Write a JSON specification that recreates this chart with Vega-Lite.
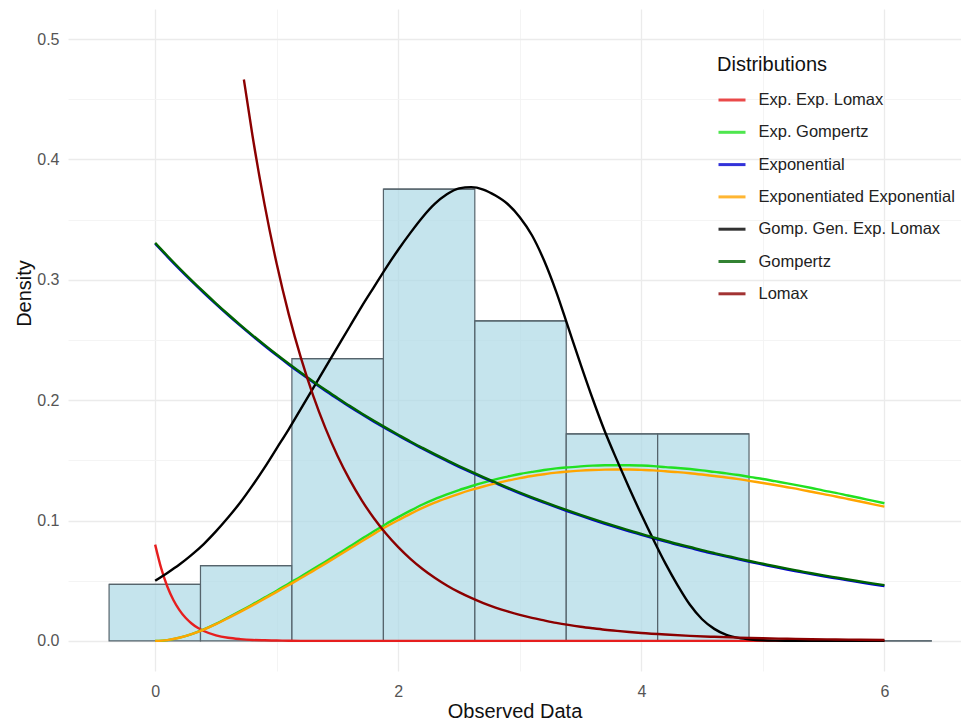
{
  "$schema": "https://vega.github.io/schema/vega-lite/v6.json",
  "width": 893,
  "height": 662,
  "autosize": {"type": "none"},
  "padding": {"left": 68, "top": 9, "right": 0, "bottom": 52},
  "background": "white",
  "config": {"view": {"stroke": null}, "font": "Liberation Sans"},
  "datasets": {
    "bars": [
      {"start": -0.379, "end": 0.373, "density": 0.0469},
      {"start": 0.373, "end": 1.125, "density": 0.0626},
      {"start": 1.125, "end": 1.878, "density": 0.2346},
      {"start": 1.878, "end": 2.63, "density": 0.3753},
      {"start": 2.63, "end": 3.382, "density": 0.2659},
      {"start": 3.382, "end": 4.134, "density": 0.172},
      {"start": 4.134, "end": 4.886, "density": 0.172},
      {"start": 4.886, "end": 5.638, "density": 0},
      {"start": 5.638, "end": 6.39, "density": 0}
    ],
    "curves": [
      {"x": 0, "y": 0.08, "dist": "Exp. Exp. Lomax"},
      {"x": 0.05, "y": 0.0602, "dist": "Exp. Exp. Lomax"},
      {"x": 0.1, "y": 0.0452, "dist": "Exp. Exp. Lomax"},
      {"x": 0.15, "y": 0.034, "dist": "Exp. Exp. Lomax"},
      {"x": 0.2, "y": 0.0256, "dist": "Exp. Exp. Lomax"},
      {"x": 0.25, "y": 0.0192, "dist": "Exp. Exp. Lomax"},
      {"x": 0.3, "y": 0.0145, "dist": "Exp. Exp. Lomax"},
      {"x": 0.35, "y": 0.0109, "dist": "Exp. Exp. Lomax"},
      {"x": 0.4, "y": 0.0082, "dist": "Exp. Exp. Lomax"},
      {"x": 0.5, "y": 0.0046, "dist": "Exp. Exp. Lomax"},
      {"x": 0.6, "y": 0.0026, "dist": "Exp. Exp. Lomax"},
      {"x": 0.7, "y": 0.0015, "dist": "Exp. Exp. Lomax"},
      {"x": 0.8, "y": 0.0008, "dist": "Exp. Exp. Lomax"},
      {"x": 0.9, "y": 0.0005, "dist": "Exp. Exp. Lomax"},
      {"x": 1.0, "y": 0.0003, "dist": "Exp. Exp. Lomax"},
      {"x": 1.1, "y": 0.0001, "dist": "Exp. Exp. Lomax"},
      {"x": 1.2, "y": 0, "dist": "Exp. Exp. Lomax"},
      {"x": 2, "y": 0, "dist": "Exp. Exp. Lomax"},
      {"x": 3, "y": 0, "dist": "Exp. Exp. Lomax"},
      {"x": 4, "y": 0, "dist": "Exp. Exp. Lomax"},
      {"x": 5, "y": 0, "dist": "Exp. Exp. Lomax"},
      {"x": 6, "y": 0, "dist": "Exp. Exp. Lomax"},

      {"x": 0, "y": 0, "dist": "Exp. Gompertz"},
      {"x": 0.1, "y": 0.0007, "dist": "Exp. Gompertz"},
      {"x": 0.2, "y": 0.0027, "dist": "Exp. Gompertz"},
      {"x": 0.3, "y": 0.0057, "dist": "Exp. Gompertz"},
      {"x": 0.4, "y": 0.0096, "dist": "Exp. Gompertz"},
      {"x": 0.5, "y": 0.0142, "dist": "Exp. Gompertz"},
      {"x": 0.6, "y": 0.0194, "dist": "Exp. Gompertz"},
      {"x": 0.7, "y": 0.0247, "dist": "Exp. Gompertz"},
      {"x": 0.8, "y": 0.0302, "dist": "Exp. Gompertz"},
      {"x": 0.9, "y": 0.036, "dist": "Exp. Gompertz"},
      {"x": 1.0, "y": 0.0417, "dist": "Exp. Gompertz"},
      {"x": 1.1, "y": 0.0477, "dist": "Exp. Gompertz"},
      {"x": 1.2, "y": 0.0535, "dist": "Exp. Gompertz"},
      {"x": 1.3, "y": 0.0597, "dist": "Exp. Gompertz"},
      {"x": 1.4, "y": 0.0658, "dist": "Exp. Gompertz"},
      {"x": 1.5, "y": 0.0721, "dist": "Exp. Gompertz"},
      {"x": 1.6, "y": 0.0784, "dist": "Exp. Gompertz"},
      {"x": 1.7, "y": 0.0849, "dist": "Exp. Gompertz"},
      {"x": 1.8, "y": 0.0911, "dist": "Exp. Gompertz"},
      {"x": 1.9, "y": 0.0972, "dist": "Exp. Gompertz"},
      {"x": 2.0, "y": 0.1028, "dist": "Exp. Gompertz"},
      {"x": 2.1, "y": 0.1082, "dist": "Exp. Gompertz"},
      {"x": 2.2, "y": 0.1133, "dist": "Exp. Gompertz"},
      {"x": 2.3, "y": 0.1178, "dist": "Exp. Gompertz"},
      {"x": 2.4, "y": 0.1217, "dist": "Exp. Gompertz"},
      {"x": 2.5, "y": 0.1253, "dist": "Exp. Gompertz"},
      {"x": 2.6, "y": 0.1285, "dist": "Exp. Gompertz"},
      {"x": 2.7, "y": 0.1315, "dist": "Exp. Gompertz"},
      {"x": 2.8, "y": 0.1342, "dist": "Exp. Gompertz"},
      {"x": 2.9, "y": 0.1365, "dist": "Exp. Gompertz"},
      {"x": 3.0, "y": 0.1387, "dist": "Exp. Gompertz"},
      {"x": 3.1, "y": 0.1404, "dist": "Exp. Gompertz"},
      {"x": 3.2, "y": 0.142, "dist": "Exp. Gompertz"},
      {"x": 3.3, "y": 0.1433, "dist": "Exp. Gompertz"},
      {"x": 3.4, "y": 0.1442, "dist": "Exp. Gompertz"},
      {"x": 3.5, "y": 0.145, "dist": "Exp. Gompertz"},
      {"x": 3.6, "y": 0.1456, "dist": "Exp. Gompertz"},
      {"x": 3.7, "y": 0.1459, "dist": "Exp. Gompertz"},
      {"x": 3.8, "y": 0.146, "dist": "Exp. Gompertz"},
      {"x": 3.9, "y": 0.146, "dist": "Exp. Gompertz"},
      {"x": 4.0, "y": 0.1457, "dist": "Exp. Gompertz"},
      {"x": 4.1, "y": 0.1452, "dist": "Exp. Gompertz"},
      {"x": 4.2, "y": 0.1444, "dist": "Exp. Gompertz"},
      {"x": 4.3, "y": 0.1437, "dist": "Exp. Gompertz"},
      {"x": 4.4, "y": 0.1428, "dist": "Exp. Gompertz"},
      {"x": 4.5, "y": 0.1417, "dist": "Exp. Gompertz"},
      {"x": 4.6, "y": 0.1404, "dist": "Exp. Gompertz"},
      {"x": 4.7, "y": 0.1392, "dist": "Exp. Gompertz"},
      {"x": 4.8, "y": 0.1378, "dist": "Exp. Gompertz"},
      {"x": 4.9, "y": 0.1361, "dist": "Exp. Gompertz"},
      {"x": 5.0, "y": 0.1345, "dist": "Exp. Gompertz"},
      {"x": 5.1, "y": 0.1327, "dist": "Exp. Gompertz"},
      {"x": 5.2, "y": 0.1309, "dist": "Exp. Gompertz"},
      {"x": 5.3, "y": 0.129, "dist": "Exp. Gompertz"},
      {"x": 5.4, "y": 0.127, "dist": "Exp. Gompertz"},
      {"x": 5.5, "y": 0.1249, "dist": "Exp. Gompertz"},
      {"x": 5.6, "y": 0.123, "dist": "Exp. Gompertz"},
      {"x": 5.7, "y": 0.1208, "dist": "Exp. Gompertz"},
      {"x": 5.8, "y": 0.1187, "dist": "Exp. Gompertz"},
      {"x": 5.9, "y": 0.1165, "dist": "Exp. Gompertz"},
      {"x": 6.0, "y": 0.1144, "dist": "Exp. Gompertz"},

      {"x": 0, "y": 0.33, "dist": "Exponential"},
      {"x": 0.1, "y": 0.3193, "dist": "Exponential"},
      {"x": 0.2, "y": 0.3089, "dist": "Exponential"},
      {"x": 0.3, "y": 0.2989, "dist": "Exponential"},
      {"x": 0.4, "y": 0.2892, "dist": "Exponential"},
      {"x": 0.5, "y": 0.2798, "dist": "Exponential"},
      {"x": 0.6, "y": 0.2707, "dist": "Exponential"},
      {"x": 0.7, "y": 0.2619, "dist": "Exponential"},
      {"x": 0.8, "y": 0.2534, "dist": "Exponential"},
      {"x": 0.9, "y": 0.2452, "dist": "Exponential"},
      {"x": 1.0, "y": 0.2372, "dist": "Exponential"},
      {"x": 1.1, "y": 0.2295, "dist": "Exponential"},
      {"x": 1.2, "y": 0.2221, "dist": "Exponential"},
      {"x": 1.3, "y": 0.2149, "dist": "Exponential"},
      {"x": 1.4, "y": 0.2079, "dist": "Exponential"},
      {"x": 1.5, "y": 0.2012, "dist": "Exponential"},
      {"x": 1.6, "y": 0.1946, "dist": "Exponential"},
      {"x": 1.7, "y": 0.1883, "dist": "Exponential"},
      {"x": 1.8, "y": 0.1822, "dist": "Exponential"},
      {"x": 1.9, "y": 0.1763, "dist": "Exponential"},
      {"x": 2.0, "y": 0.1706, "dist": "Exponential"},
      {"x": 2.1, "y": 0.165, "dist": "Exponential"},
      {"x": 2.2, "y": 0.1597, "dist": "Exponential"},
      {"x": 2.3, "y": 0.1545, "dist": "Exponential"},
      {"x": 2.4, "y": 0.1495, "dist": "Exponential"},
      {"x": 2.5, "y": 0.1446, "dist": "Exponential"},
      {"x": 2.6, "y": 0.1399, "dist": "Exponential"},
      {"x": 2.7, "y": 0.1354, "dist": "Exponential"},
      {"x": 2.8, "y": 0.131, "dist": "Exponential"},
      {"x": 2.9, "y": 0.1267, "dist": "Exponential"},
      {"x": 3.0, "y": 0.1226, "dist": "Exponential"},
      {"x": 3.1, "y": 0.1186, "dist": "Exponential"},
      {"x": 3.2, "y": 0.1148, "dist": "Exponential"},
      {"x": 3.3, "y": 0.1111, "dist": "Exponential"},
      {"x": 3.4, "y": 0.1075, "dist": "Exponential"},
      {"x": 3.5, "y": 0.104, "dist": "Exponential"},
      {"x": 3.6, "y": 0.1006, "dist": "Exponential"},
      {"x": 3.7, "y": 0.0973, "dist": "Exponential"},
      {"x": 3.8, "y": 0.0942, "dist": "Exponential"},
      {"x": 3.9, "y": 0.0911, "dist": "Exponential"},
      {"x": 4.0, "y": 0.0882, "dist": "Exponential"},
      {"x": 4.1, "y": 0.0853, "dist": "Exponential"},
      {"x": 4.2, "y": 0.0825, "dist": "Exponential"},
      {"x": 4.3, "y": 0.0798, "dist": "Exponential"},
      {"x": 4.4, "y": 0.0773, "dist": "Exponential"},
      {"x": 4.5, "y": 0.0747, "dist": "Exponential"},
      {"x": 4.6, "y": 0.0723, "dist": "Exponential"},
      {"x": 4.7, "y": 0.07, "dist": "Exponential"},
      {"x": 4.8, "y": 0.0677, "dist": "Exponential"},
      {"x": 4.9, "y": 0.0655, "dist": "Exponential"},
      {"x": 5.0, "y": 0.0634, "dist": "Exponential"},
      {"x": 5.1, "y": 0.0613, "dist": "Exponential"},
      {"x": 5.2, "y": 0.0593, "dist": "Exponential"},
      {"x": 5.3, "y": 0.0574, "dist": "Exponential"},
      {"x": 5.4, "y": 0.0555, "dist": "Exponential"},
      {"x": 5.5, "y": 0.0537, "dist": "Exponential"},
      {"x": 5.6, "y": 0.052, "dist": "Exponential"},
      {"x": 5.7, "y": 0.0503, "dist": "Exponential"},
      {"x": 5.8, "y": 0.0487, "dist": "Exponential"},
      {"x": 5.9, "y": 0.0471, "dist": "Exponential"},
      {"x": 6.0, "y": 0.0456, "dist": "Exponential"},

      {"x": 0, "y": 0, "dist": "Exponentiated Exponential"},
      {"x": 0.1, "y": 0.0007, "dist": "Exponentiated Exponential"},
      {"x": 0.2, "y": 0.0026, "dist": "Exponentiated Exponential"},
      {"x": 0.3, "y": 0.0056, "dist": "Exponentiated Exponential"},
      {"x": 0.4, "y": 0.0094, "dist": "Exponentiated Exponential"},
      {"x": 0.5, "y": 0.0139, "dist": "Exponentiated Exponential"},
      {"x": 0.6, "y": 0.0189, "dist": "Exponentiated Exponential"},
      {"x": 0.7, "y": 0.0241, "dist": "Exponentiated Exponential"},
      {"x": 0.8, "y": 0.0295, "dist": "Exponentiated Exponential"},
      {"x": 0.9, "y": 0.0351, "dist": "Exponentiated Exponential"},
      {"x": 1.0, "y": 0.0407, "dist": "Exponentiated Exponential"},
      {"x": 1.1, "y": 0.0465, "dist": "Exponentiated Exponential"},
      {"x": 1.2, "y": 0.0522, "dist": "Exponentiated Exponential"},
      {"x": 1.3, "y": 0.0582, "dist": "Exponentiated Exponential"},
      {"x": 1.4, "y": 0.0642, "dist": "Exponentiated Exponential"},
      {"x": 1.5, "y": 0.0703, "dist": "Exponentiated Exponential"},
      {"x": 1.6, "y": 0.0765, "dist": "Exponentiated Exponential"},
      {"x": 1.7, "y": 0.0828, "dist": "Exponentiated Exponential"},
      {"x": 1.8, "y": 0.0889, "dist": "Exponentiated Exponential"},
      {"x": 1.9, "y": 0.0948, "dist": "Exponentiated Exponential"},
      {"x": 2.0, "y": 0.1003, "dist": "Exponentiated Exponential"},
      {"x": 2.1, "y": 0.1056, "dist": "Exponentiated Exponential"},
      {"x": 2.2, "y": 0.1105, "dist": "Exponentiated Exponential"},
      {"x": 2.3, "y": 0.1149, "dist": "Exponentiated Exponential"},
      {"x": 2.4, "y": 0.1187, "dist": "Exponentiated Exponential"},
      {"x": 2.5, "y": 0.1222, "dist": "Exponentiated Exponential"},
      {"x": 2.6, "y": 0.1254, "dist": "Exponentiated Exponential"},
      {"x": 2.7, "y": 0.1283, "dist": "Exponentiated Exponential"},
      {"x": 2.8, "y": 0.1309, "dist": "Exponentiated Exponential"},
      {"x": 2.9, "y": 0.1332, "dist": "Exponentiated Exponential"},
      {"x": 3.0, "y": 0.1353, "dist": "Exponentiated Exponential"},
      {"x": 3.1, "y": 0.137, "dist": "Exponentiated Exponential"},
      {"x": 3.2, "y": 0.1385, "dist": "Exponentiated Exponential"},
      {"x": 3.3, "y": 0.1398, "dist": "Exponentiated Exponential"},
      {"x": 3.4, "y": 0.1407, "dist": "Exponentiated Exponential"},
      {"x": 3.5, "y": 0.1415, "dist": "Exponentiated Exponential"},
      {"x": 3.6, "y": 0.142, "dist": "Exponentiated Exponential"},
      {"x": 3.7, "y": 0.1423, "dist": "Exponentiated Exponential"},
      {"x": 3.8, "y": 0.1424, "dist": "Exponentiated Exponential"},
      {"x": 3.9, "y": 0.1424, "dist": "Exponentiated Exponential"},
      {"x": 4.0, "y": 0.1421, "dist": "Exponentiated Exponential"},
      {"x": 4.1, "y": 0.1417, "dist": "Exponentiated Exponential"},
      {"x": 4.2, "y": 0.1409, "dist": "Exponentiated Exponential"},
      {"x": 4.3, "y": 0.1402, "dist": "Exponentiated Exponential"},
      {"x": 4.4, "y": 0.1393, "dist": "Exponentiated Exponential"},
      {"x": 4.5, "y": 0.1382, "dist": "Exponentiated Exponential"},
      {"x": 4.6, "y": 0.137, "dist": "Exponentiated Exponential"},
      {"x": 4.7, "y": 0.1358, "dist": "Exponentiated Exponential"},
      {"x": 4.8, "y": 0.1344, "dist": "Exponentiated Exponential"},
      {"x": 4.9, "y": 0.1328, "dist": "Exponentiated Exponential"},
      {"x": 5.0, "y": 0.1312, "dist": "Exponentiated Exponential"},
      {"x": 5.1, "y": 0.1295, "dist": "Exponentiated Exponential"},
      {"x": 5.2, "y": 0.1277, "dist": "Exponentiated Exponential"},
      {"x": 5.3, "y": 0.1259, "dist": "Exponentiated Exponential"},
      {"x": 5.4, "y": 0.1239, "dist": "Exponentiated Exponential"},
      {"x": 5.5, "y": 0.1219, "dist": "Exponentiated Exponential"},
      {"x": 5.6, "y": 0.12, "dist": "Exponentiated Exponential"},
      {"x": 5.7, "y": 0.1179, "dist": "Exponentiated Exponential"},
      {"x": 5.8, "y": 0.1158, "dist": "Exponentiated Exponential"},
      {"x": 5.9, "y": 0.1137, "dist": "Exponentiated Exponential"},
      {"x": 6.0, "y": 0.1116, "dist": "Exponentiated Exponential"},

      {"x": 0, "y": 0.05, "dist": "Gomp. Gen. Exp. Lomax"},
      {"x": 0.1, "y": 0.0565, "dist": "Gomp. Gen. Exp. Lomax"},
      {"x": 0.2, "y": 0.0635, "dist": "Gomp. Gen. Exp. Lomax"},
      {"x": 0.3, "y": 0.0715, "dist": "Gomp. Gen. Exp. Lomax"},
      {"x": 0.4, "y": 0.0805, "dist": "Gomp. Gen. Exp. Lomax"},
      {"x": 0.5, "y": 0.091, "dist": "Gomp. Gen. Exp. Lomax"},
      {"x": 0.6, "y": 0.1025, "dist": "Gomp. Gen. Exp. Lomax"},
      {"x": 0.7, "y": 0.115, "dist": "Gomp. Gen. Exp. Lomax"},
      {"x": 0.8, "y": 0.129, "dist": "Gomp. Gen. Exp. Lomax"},
      {"x": 0.9, "y": 0.144, "dist": "Gomp. Gen. Exp. Lomax"},
      {"x": 1.0, "y": 0.16, "dist": "Gomp. Gen. Exp. Lomax"},
      {"x": 1.1, "y": 0.176, "dist": "Gomp. Gen. Exp. Lomax"},
      {"x": 1.2, "y": 0.193, "dist": "Gomp. Gen. Exp. Lomax"},
      {"x": 1.3, "y": 0.21, "dist": "Gomp. Gen. Exp. Lomax"},
      {"x": 1.4, "y": 0.227, "dist": "Gomp. Gen. Exp. Lomax"},
      {"x": 1.5, "y": 0.244, "dist": "Gomp. Gen. Exp. Lomax"},
      {"x": 1.6, "y": 0.261, "dist": "Gomp. Gen. Exp. Lomax"},
      {"x": 1.7, "y": 0.278, "dist": "Gomp. Gen. Exp. Lomax"},
      {"x": 1.8, "y": 0.294, "dist": "Gomp. Gen. Exp. Lomax"},
      {"x": 1.9, "y": 0.31, "dist": "Gomp. Gen. Exp. Lomax"},
      {"x": 2.0, "y": 0.325, "dist": "Gomp. Gen. Exp. Lomax"},
      {"x": 2.1, "y": 0.339, "dist": "Gomp. Gen. Exp. Lomax"},
      {"x": 2.2, "y": 0.352, "dist": "Gomp. Gen. Exp. Lomax"},
      {"x": 2.3, "y": 0.363, "dist": "Gomp. Gen. Exp. Lomax"},
      {"x": 2.4, "y": 0.371, "dist": "Gomp. Gen. Exp. Lomax"},
      {"x": 2.5, "y": 0.376, "dist": "Gomp. Gen. Exp. Lomax"},
      {"x": 2.6, "y": 0.377, "dist": "Gomp. Gen. Exp. Lomax"},
      {"x": 2.7, "y": 0.375, "dist": "Gomp. Gen. Exp. Lomax"},
      {"x": 2.8, "y": 0.37, "dist": "Gomp. Gen. Exp. Lomax"},
      {"x": 2.9, "y": 0.363, "dist": "Gomp. Gen. Exp. Lomax"},
      {"x": 3.0, "y": 0.352, "dist": "Gomp. Gen. Exp. Lomax"},
      {"x": 3.1, "y": 0.337, "dist": "Gomp. Gen. Exp. Lomax"},
      {"x": 3.2, "y": 0.316, "dist": "Gomp. Gen. Exp. Lomax"},
      {"x": 3.3, "y": 0.29, "dist": "Gomp. Gen. Exp. Lomax"},
      {"x": 3.4, "y": 0.26, "dist": "Gomp. Gen. Exp. Lomax"},
      {"x": 3.5, "y": 0.23, "dist": "Gomp. Gen. Exp. Lomax"},
      {"x": 3.6, "y": 0.201, "dist": "Gomp. Gen. Exp. Lomax"},
      {"x": 3.7, "y": 0.174, "dist": "Gomp. Gen. Exp. Lomax"},
      {"x": 3.8, "y": 0.15, "dist": "Gomp. Gen. Exp. Lomax"},
      {"x": 3.9, "y": 0.127, "dist": "Gomp. Gen. Exp. Lomax"},
      {"x": 4.0, "y": 0.105, "dist": "Gomp. Gen. Exp. Lomax"},
      {"x": 4.1, "y": 0.084, "dist": "Gomp. Gen. Exp. Lomax"},
      {"x": 4.2, "y": 0.064, "dist": "Gomp. Gen. Exp. Lomax"},
      {"x": 4.3, "y": 0.046, "dist": "Gomp. Gen. Exp. Lomax"},
      {"x": 4.4, "y": 0.03, "dist": "Gomp. Gen. Exp. Lomax"},
      {"x": 4.5, "y": 0.018, "dist": "Gomp. Gen. Exp. Lomax"},
      {"x": 4.6, "y": 0.01, "dist": "Gomp. Gen. Exp. Lomax"},
      {"x": 4.7, "y": 0.005, "dist": "Gomp. Gen. Exp. Lomax"},
      {"x": 4.8, "y": 0.0025, "dist": "Gomp. Gen. Exp. Lomax"},
      {"x": 4.9, "y": 0.0012, "dist": "Gomp. Gen. Exp. Lomax"},
      {"x": 5.0, "y": 0.0005, "dist": "Gomp. Gen. Exp. Lomax"},
      {"x": 5.1, "y": 0.0002, "dist": "Gomp. Gen. Exp. Lomax"},
      {"x": 5.2, "y": 0.0001, "dist": "Gomp. Gen. Exp. Lomax"},
      {"x": 5.5, "y": 0, "dist": "Gomp. Gen. Exp. Lomax"},
      {"x": 6.0, "y": 0, "dist": "Gomp. Gen. Exp. Lomax"},

      {"x": 0, "y": 0.3307, "dist": "Gompertz"},
      {"x": 0.1, "y": 0.32, "dist": "Gompertz"},
      {"x": 0.2, "y": 0.3096, "dist": "Gompertz"},
      {"x": 0.3, "y": 0.2996, "dist": "Gompertz"},
      {"x": 0.4, "y": 0.2899, "dist": "Gompertz"},
      {"x": 0.5, "y": 0.2805, "dist": "Gompertz"},
      {"x": 0.6, "y": 0.2714, "dist": "Gompertz"},
      {"x": 0.7, "y": 0.2626, "dist": "Gompertz"},
      {"x": 0.8, "y": 0.2541, "dist": "Gompertz"},
      {"x": 0.9, "y": 0.2459, "dist": "Gompertz"},
      {"x": 1.0, "y": 0.2379, "dist": "Gompertz"},
      {"x": 1.1, "y": 0.2302, "dist": "Gompertz"},
      {"x": 1.2, "y": 0.2228, "dist": "Gompertz"},
      {"x": 1.3, "y": 0.2156, "dist": "Gompertz"},
      {"x": 1.4, "y": 0.2086, "dist": "Gompertz"},
      {"x": 1.5, "y": 0.2019, "dist": "Gompertz"},
      {"x": 1.6, "y": 0.1953, "dist": "Gompertz"},
      {"x": 1.7, "y": 0.189, "dist": "Gompertz"},
      {"x": 1.8, "y": 0.1829, "dist": "Gompertz"},
      {"x": 1.9, "y": 0.177, "dist": "Gompertz"},
      {"x": 2.0, "y": 0.1713, "dist": "Gompertz"},
      {"x": 2.1, "y": 0.1657, "dist": "Gompertz"},
      {"x": 2.2, "y": 0.1604, "dist": "Gompertz"},
      {"x": 2.3, "y": 0.1552, "dist": "Gompertz"},
      {"x": 2.4, "y": 0.1502, "dist": "Gompertz"},
      {"x": 2.5, "y": 0.1453, "dist": "Gompertz"},
      {"x": 2.6, "y": 0.1406, "dist": "Gompertz"},
      {"x": 2.7, "y": 0.1361, "dist": "Gompertz"},
      {"x": 2.8, "y": 0.1317, "dist": "Gompertz"},
      {"x": 2.9, "y": 0.1274, "dist": "Gompertz"},
      {"x": 3.0, "y": 0.1233, "dist": "Gompertz"},
      {"x": 3.1, "y": 0.1193, "dist": "Gompertz"},
      {"x": 3.2, "y": 0.1155, "dist": "Gompertz"},
      {"x": 3.3, "y": 0.1118, "dist": "Gompertz"},
      {"x": 3.4, "y": 0.1082, "dist": "Gompertz"},
      {"x": 3.5, "y": 0.1047, "dist": "Gompertz"},
      {"x": 3.6, "y": 0.1013, "dist": "Gompertz"},
      {"x": 3.7, "y": 0.098, "dist": "Gompertz"},
      {"x": 3.8, "y": 0.0949, "dist": "Gompertz"},
      {"x": 3.9, "y": 0.0918, "dist": "Gompertz"},
      {"x": 4.0, "y": 0.0889, "dist": "Gompertz"},
      {"x": 4.1, "y": 0.086, "dist": "Gompertz"},
      {"x": 4.2, "y": 0.0832, "dist": "Gompertz"},
      {"x": 4.3, "y": 0.0805, "dist": "Gompertz"},
      {"x": 4.4, "y": 0.078, "dist": "Gompertz"},
      {"x": 4.5, "y": 0.0754, "dist": "Gompertz"},
      {"x": 4.6, "y": 0.073, "dist": "Gompertz"},
      {"x": 4.7, "y": 0.0707, "dist": "Gompertz"},
      {"x": 4.8, "y": 0.0684, "dist": "Gompertz"},
      {"x": 4.9, "y": 0.0662, "dist": "Gompertz"},
      {"x": 5.0, "y": 0.0641, "dist": "Gompertz"},
      {"x": 5.1, "y": 0.062, "dist": "Gompertz"},
      {"x": 5.2, "y": 0.06, "dist": "Gompertz"},
      {"x": 5.3, "y": 0.0581, "dist": "Gompertz"},
      {"x": 5.4, "y": 0.0562, "dist": "Gompertz"},
      {"x": 5.5, "y": 0.0544, "dist": "Gompertz"},
      {"x": 5.6, "y": 0.0527, "dist": "Gompertz"},
      {"x": 5.7, "y": 0.051, "dist": "Gompertz"},
      {"x": 5.8, "y": 0.0494, "dist": "Gompertz"},
      {"x": 5.9, "y": 0.0478, "dist": "Gompertz"},
      {"x": 6.0, "y": 0.0463, "dist": "Gompertz"},

      {"x": 0.73, "y": 0.4664, "dist": "Lomax"},
      {"x": 0.8, "y": 0.4203, "dist": "Lomax"},
      {"x": 0.9, "y": 0.3627, "dist": "Lomax"},
      {"x": 1.0, "y": 0.3133, "dist": "Lomax"},
      {"x": 1.1, "y": 0.2711, "dist": "Lomax"},
      {"x": 1.2, "y": 0.2349, "dist": "Lomax"},
      {"x": 1.3, "y": 0.2038, "dist": "Lomax"},
      {"x": 1.4, "y": 0.177, "dist": "Lomax"},
      {"x": 1.5, "y": 0.1539, "dist": "Lomax"},
      {"x": 1.6, "y": 0.134, "dist": "Lomax"},
      {"x": 1.7, "y": 0.1168, "dist": "Lomax"},
      {"x": 1.8, "y": 0.1019, "dist": "Lomax"},
      {"x": 1.9, "y": 0.089, "dist": "Lomax"},
      {"x": 2.0, "y": 0.0779, "dist": "Lomax"},
      {"x": 2.1, "y": 0.0682, "dist": "Lomax"},
      {"x": 2.2, "y": 0.0598, "dist": "Lomax"},
      {"x": 2.3, "y": 0.0525, "dist": "Lomax"},
      {"x": 2.4, "y": 0.0461, "dist": "Lomax"},
      {"x": 2.5, "y": 0.0405, "dist": "Lomax"},
      {"x": 2.6, "y": 0.0357, "dist": "Lomax"},
      {"x": 2.7, "y": 0.0314, "dist": "Lomax"},
      {"x": 2.8, "y": 0.0277, "dist": "Lomax"},
      {"x": 2.9, "y": 0.0245, "dist": "Lomax"},
      {"x": 3.0, "y": 0.0216, "dist": "Lomax"},
      {"x": 3.1, "y": 0.0191, "dist": "Lomax"},
      {"x": 3.2, "y": 0.017, "dist": "Lomax"},
      {"x": 3.3, "y": 0.015, "dist": "Lomax"},
      {"x": 3.4, "y": 0.0133, "dist": "Lomax"},
      {"x": 3.5, "y": 0.0118, "dist": "Lomax"},
      {"x": 3.6, "y": 0.0105, "dist": "Lomax"},
      {"x": 3.7, "y": 0.0093, "dist": "Lomax"},
      {"x": 3.8, "y": 0.0083, "dist": "Lomax"},
      {"x": 3.9, "y": 0.0074, "dist": "Lomax"},
      {"x": 4.0, "y": 0.0066, "dist": "Lomax"},
      {"x": 4.2, "y": 0.0053, "dist": "Lomax"},
      {"x": 4.4, "y": 0.0042, "dist": "Lomax"},
      {"x": 4.6, "y": 0.0034, "dist": "Lomax"},
      {"x": 4.8, "y": 0.0027, "dist": "Lomax"},
      {"x": 5.0, "y": 0.0022, "dist": "Lomax"},
      {"x": 5.2, "y": 0.0018, "dist": "Lomax"},
      {"x": 5.4, "y": 0.0014, "dist": "Lomax"},
      {"x": 5.6, "y": 0.0012, "dist": "Lomax"},
      {"x": 5.8, "y": 0.001, "dist": "Lomax"},
      {"x": 6.0, "y": 0.0008, "dist": "Lomax"}
    ]
  },
  "layer": [
    {
      "data": {"name": "bars"},
      "mark": {"type": "rect", "fill": "#add8e6", "fillOpacity": 0.7, "stroke": "#56646c", "strokeWidth": 1.2},
      "encoding": {
        "x": {
          "field": "start", "type": "quantitative",
          "scale": {"domain": [-0.717, 6.63], "nice": false, "zero": false},
          "axis": {"orient": "top", "values": [1, 3, 5], "grid": true, "gridColor": "#f3f3f3", "gridWidth": 0.9, "labels": false, "ticks": false, "domain": false, "title": null}
        },
        "x2": {"field": "end"},
        "y": {
          "field": "density", "type": "quantitative",
          "scale": {"domain": [-0.025, 0.525], "nice": false, "zero": false},
          "axis": {"orient": "right", "values": [0.05, 0.15, 0.25, 0.35, 0.45], "grid": true, "gridColor": "#f3f3f3", "gridWidth": 0.9, "labels": false, "ticks": false, "domain": false, "title": null}
        },
        "y2": {"datum": 0}
      }
    },
    {
      "data": {"name": "bars"},
      "mark": {"type": "rule", "stroke": "#56646c", "strokeWidth": 1.2},
      "encoding": {
        "x": {"field": "start", "type": "quantitative", "axis": null},
        "x2": {"field": "end"},
        "y": {"field": "density", "type": "quantitative", "axis": null}
      }
    },
    {
      "data": {"name": "curves"},
      "mark": {"type": "line", "strokeWidth": 2.4, "strokeCap": "butt", "interpolate": "monotone"},
      "encoding": {
        "x": {
          "field": "x", "type": "quantitative",
          "axis": {"orient": "bottom", "values": [0, 2, 4, 6], "format": "d", "grid": true, "gridColor": "#ebebeb", "gridWidth": 1.3, "domain": false, "ticks": false, "labelFontSize": 16, "labelColor": "#555555", "labelPadding": 12, "labelOverlap": false, "labelFlush": false, "title": "Observed Data", "titleFontSize": 20, "titleFontWeight": "normal", "titleColor": "#111111", "titlePadding": 2}
        },
        "y": {
          "field": "y", "type": "quantitative",
          "axis": {"orient": "left", "values": [0, 0.1, 0.2, 0.3, 0.4, 0.5], "format": ".1f", "grid": true, "gridColor": "#ebebeb", "gridWidth": 1.3, "domain": false, "ticks": false, "labelFontSize": 16, "labelColor": "#555555", "labelPadding": 9, "labelOverlap": false, "title": "Density", "titleFontSize": 20, "titleFontWeight": "normal", "titleColor": "#111111", "titlePadding": 2, "titleY": 284}
        },
        "color": {
          "field": "dist", "type": "nominal",
          "scale": {
            "domain": ["Exp. Exp. Lomax", "Exp. Gompertz", "Exponential", "Exponentiated Exponential", "Gomp. Gen. Exp. Lomax", "Gompertz", "Lomax"],
            "range": ["#e61e1e", "#22e022", "#0000d0", "#ffa500", "#000000", "#006400", "#8b0000"]
          },
          "legend": {
            "orient": "none", "legendX": 649, "legendY": 46, "padding": 0,
            "title": "Distributions", "titleFontSize": 20, "titleFontWeight": "normal", "titleColor": "#111111", "titlePadding": 10,
            "labelFontSize": 16.5, "labelColor": "#222222", "labelOffset": 11.5, "labelLimit": 400, "rowPadding": 8.3,
            "symbolType": "stroke", "symbolSize": 729, "symbolStrokeWidth": 3, "symbolOpacity": 0.8
          }
        }
      }
    }
  ],
  "resolve": {"axis": {"x": "independent", "y": "independent"}}
}
